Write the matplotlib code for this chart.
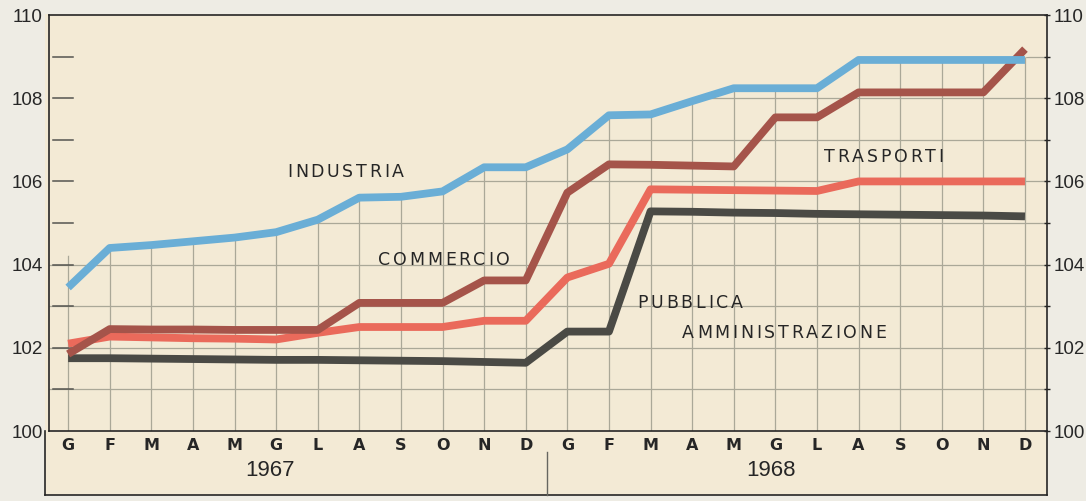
import numpy as np
import matplotlib
matplotlib.use("Agg")
import matplotlib.pyplot as plt
from matplotlib.patches import Polygon, Rectangle
from matplotlib.textpath import TextToPath
from matplotlib.font_manager import FontProperties

# monthly index, Jan 1967 - Dec 1968 (base 100)
MONTHS = list("GFMAMGLASOND") * 2
YEARS = ["1967", "1968"]
INDUSTRIA = [103.45, 104.40, 104.47, 104.56, 104.65, 104.78, 105.08, 105.61,
             105.63, 105.76, 106.34, 106.34, 106.77, 107.59, 107.61, 107.93,
             108.24, 108.24, 108.24, 108.92, 108.92, 108.92, 108.92, 108.92]
COMMERCIO = [101.85, 102.45, 102.44, 102.44, 102.43, 102.43, 102.43, 103.08,
             103.08, 103.08, 103.62, 103.62, 105.73, 106.41, 106.40, 106.38,
             106.36, 107.54, 107.54, 108.14, 108.14, 108.14, 108.14, 109.18]
TRASPORTI = [102.10, 102.27, 102.25, 102.23, 102.22, 102.20, 102.36, 102.50,
             102.50, 102.50, 102.65, 102.65, 103.69, 104.02, 105.81, 105.80,
             105.79, 105.78, 105.77, 106.00, 106.00, 106.00, 106.00, 106.00]
PUBBLICA = [101.75, 101.75, 101.74, 101.73, 101.72, 101.71, 101.71, 101.70,
            101.69, 101.68, 101.66, 101.64, 102.39, 102.39, 105.28, 105.27,
            105.25, 105.24, 105.22, 105.21, 105.20, 105.19, 105.18, 105.16]

PAPER = "#eeece4"
CREAM = "#f3ead5"
GRID = "#aaa898"
INK = "#262626"
C_IND, C_COM, C_TRA, C_PUB = "#6aaed6", "#a5544a", "#ea6a5b", "#4a4a45"

NUM = "Liberation Sans"

fig = plt.figure(figsize=(10.86, 5.01), dpi=100, facecolor=PAPER)
fig.patches.append(Rectangle((0.0414, 0.012), 0.9227, 0.960,
                             transform=fig.transFigure, facecolor=CREAM,
                             edgecolor="none", zorder=-1))
ax = fig.add_axes([0.0451, 0.1397, 0.9190, 0.8303])
ax.set_facecolor("none")

x = np.arange(len(MONTHS))
XL, XR = -0.46, 23.53
ax.set_xlim(XL, XR)
ax.set_ylim(100, 110)

# grid only under the Industria curve
top = np.array(INDUSTRIA) + 0.05
verts = [(XL, 100), (XL, 104.1)] + list(zip(x[1:], top[1:])) + [(XR, 109.2), (XR, 100)]
clip = Polygon(verts, closed=True, transform=ax.transData,
               facecolor="none", edgecolor="none")
ax.add_patch(clip)
vl = ax.vlines(x, 100, 110, color=GRID, lw=0.9, zorder=1)
hl = ax.hlines(np.arange(101, 110), XL, XR, color=GRID, lw=0.9, zorder=1)
vl.set_clip_path(clip)
hl.set_clip_path(clip)

# short inner marks on the left scale
for v in range(101, 110):
    ax.plot([0.004, 0.024], [v, v], transform=ax.get_yaxis_transform(),
            color="#555550", lw=1.1, zorder=2)

kw = dict(lw=5.6, solid_capstyle="butt", solid_joinstyle="round", zorder=3)
ax.plot(x, PUBBLICA, color=C_PUB, **kw)
ax.plot(x, TRASPORTI, color=C_TRA, **kw)
ax.plot(x, COMMERCIO, color=C_COM, **kw)
ax.plot(x, INDUSTRIA, color=C_IND, **kw)

tp = TextToPath()


def tracked(x0, y0, s, size=12.5, track=2.0):
    prop = FontProperties(family="DejaVu Sans", size=size)
    off = 0.0
    for ch in s:
        ax.annotate(ch, (x0, y0), xytext=(off, 0), textcoords="offset points",
                    ha="left", va="center", fontproperties=prop, color=INK,
                    zorder=4)
        w, _, _ = tp.get_text_width_height_descent(ch, prop, ismath=False)
        off += w + track


tracked(5.26, 106.22, "INDUSTRIA")
tracked(7.45, 104.12, "COMMERCIO")
tracked(18.17, 106.58, "TRASPORTI")
tracked(13.68, 103.08, "PUBBLICA")
tracked(14.76, 102.36, "AMMINISTRAZIONE")

# frame
for s in ax.spines.values():
    s.set_color(INK)
    s.set_linewidth(1.2)

# left scale
ax.set_yticks(range(100, 111, 2))
ax.set_yticklabels([str(v) for v in range(100, 111, 2)], fontsize=13.5,
                   family=NUM, color=INK)
ax.tick_params(axis="y", length=0, pad=4.5)

# right scale
ax2 = ax.twinx()
ax2.set_ylim(100, 110)
ax2.set_yticks(range(100, 111, 2))
ax2.set_yticks(range(101, 110, 2), minor=True)
ax2.set_yticklabels([str(v) for v in range(100, 111, 2)], fontsize=13.5,
                    family=NUM, color=INK)
ax2.tick_params(axis="y", which="both", direction="inout", length=5,
                width=1.0, color=INK, pad=2)
for s in ax2.spines.values():
    s.set_visible(False)

# month axis box
ax.set_xticks([])
xt = ax.get_xaxis_transform()
for xi, m in zip(x, MONTHS):
    ax.text(xi, -0.036, m, transform=xt, ha="center", va="center",
            fontsize=11.5, fontweight="bold", family="DejaVu Sans", color=INK)
for xc, yr in zip([4.85, 16.9], YEARS):
    ax.text(xc, -0.096, yr, transform=xt, ha="center", va="center",
            fontsize=16, family=NUM, color=INK)
line = dict(color=INK, lw=1.2, clip_on=False)
ax.plot([-0.004, -0.004], [0, -0.154], transform=ax.transAxes, **line)
ax.plot([-0.004, 1], [-0.154, -0.154], transform=ax.transAxes, **line)
ax.plot([1, 1], [0, -0.154], transform=ax.transAxes, **line)
ax.plot([11.5, 11.5], [-0.05, -0.154], transform=xt, color="#666660",
        lw=1.0, clip_on=False)

fig.savefig("out.png", dpi=100, facecolor=PAPER)
